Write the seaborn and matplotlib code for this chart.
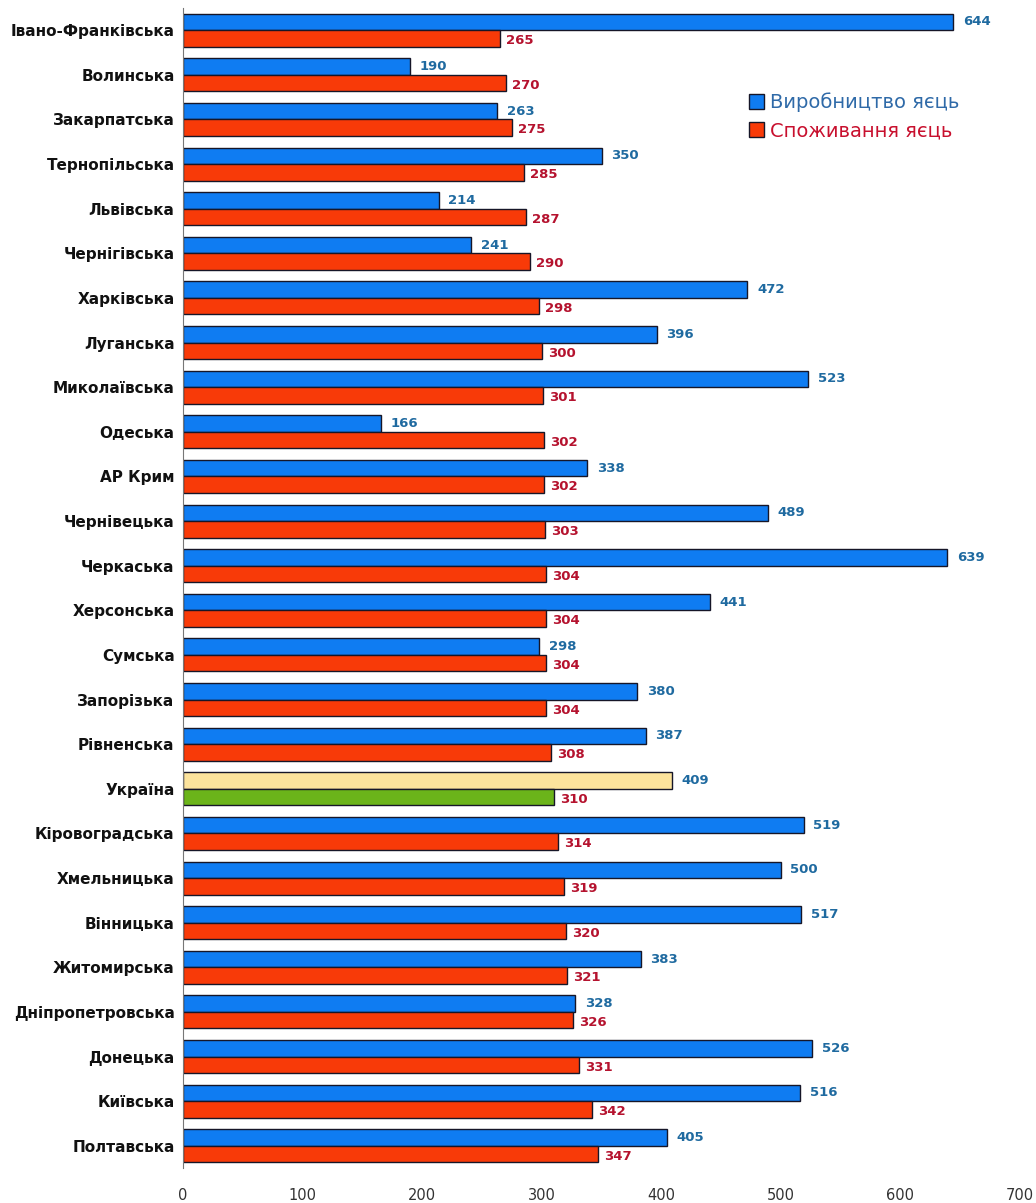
import matplotlib
matplotlib.use("Agg")
import matplotlib.pyplot as plt
import seaborn as sns
import pandas as pd
from matplotlib.patches import Patch

regions = ["Івано-Франківська", "Волинська", "Закарпатська", "Тернопільська", "Львівська",
           "Чернігівська", "Харківська", "Луганська", "Миколаївська", "Одеська", "АР Крим",
           "Чернівецька", "Черкаська", "Херсонська", "Сумська", "Запорізька", "Рівненська",
           "Україна", "Кіровоградська", "Хмельницька", "Вінницька", "Житомирська",
           "Дніпропетровська", "Донецька", "Київська", "Полтавська"]
production = [644, 190, 263, 350, 214, 241, 472, 396, 523, 166, 338, 489, 639, 441, 298,
              380, 387, 409, 519, 500, 517, 383, 328, 526, 516, 405]
consumption = [265, 270, 275, 285, 287, 290, 298, 300, 301, 302, 302, 303, 304, 304, 304,
               304, 308, 310, 314, 319, 320, 321, 326, 331, 342, 347]
series_names = ["Виробництво яєць", "Споживання яєць"]
x_ticks = [0, 100, 200, 300, 400, 500, 600, 700]

df = pd.DataFrame({
    "region": regions * 2,
    "value": production + consumption,
    "series": [series_names[0]] * len(regions) + [series_names[1]] * len(regions),
})

sns.set_style("white")
plt.rcParams["font.family"] = ["DejaVu Sans"]

fig = plt.figure(figsize=(10.36, 12.03), dpi=100)
ax = fig.add_axes([0.1766, 0.029, 0.808, 0.9645])

blue = "#0f7cf2"
red = "#f83a08"
sns.barplot(data=df, y="region", x="value", hue="series", orient="h",
            palette=[blue, red], saturation=1, width=0.74, edgecolor="#161628",
            linewidth=1.0, ax=ax, legend=False)

uk = regions.index("Україна")
cont_blue, cont_red = ax.containers[0], ax.containers[1]
cont_blue[uk].set_facecolor("#fce39c")
cont_red[uk].set_facecolor("#6bb41a")

label_blue = "#1f6aa0"
label_red = "#b5122e"
for bar, v in zip(cont_blue, production):
    ax.text(bar.get_width() + 8, bar.get_y() + bar.get_height() / 2, str(v),
            va="center", ha="left", fontsize=9.5, fontweight="bold", color=label_blue)
for bar, v in zip(cont_red, consumption):
    ax.text(bar.get_width() + 5, bar.get_y() + bar.get_height() / 2 + 0.05, str(v),
            va="center", ha="left", fontsize=9.5, fontweight="bold", color=label_red)

ax.set_xlim(0, 700)
ax.set_ylim(len(regions) - 0.5, -0.5)
ax.set_xticks(x_ticks)
ax.set_xticklabels([str(t) for t in x_ticks], fontsize=10.5, color="#333333")
ax.set_yticklabels(regions, fontsize=11, fontweight="bold", color="#111111")
ax.set_xlabel("")
ax.set_ylabel("")
for s in ["top", "right", "bottom"]:
    ax.spines[s].set_visible(False)
ax.spines["left"].set_color("#777777")
ax.tick_params(axis="x", length=0, pad=14)
ax.tick_params(axis="y", length=0, pad=6)

handles = [Patch(facecolor=blue, edgecolor="#161628"), Patch(facecolor=red, edgecolor="#161628")]
leg = ax.legend(handles, series_names, loc="upper left", bbox_to_anchor=(0.655, 0.942),
                frameon=False, fontsize=14, handlelength=0.8, handleheight=0.8,
                handletextpad=0.3, labelspacing=0.45)
leg.get_texts()[0].set_color("#2f6aa8")
leg.get_texts()[1].set_color("#c8102e")

fig.savefig("out.png", dpi=100)
